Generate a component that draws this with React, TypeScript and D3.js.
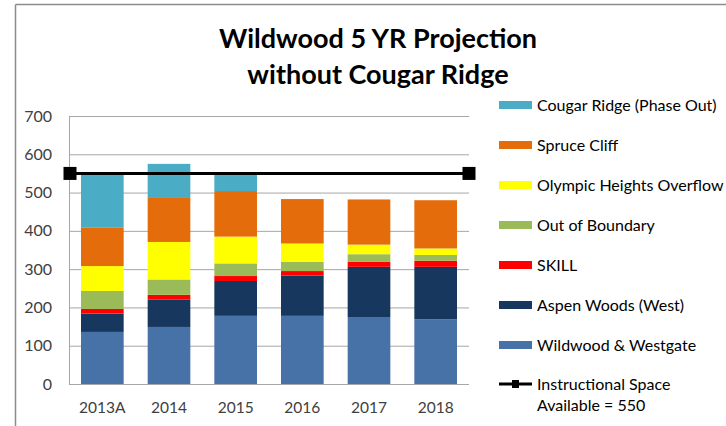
import * as d3 from "d3";

// chart values
const years = ["2013A", "2014", "2015", "2016", "2017", "2018"];
const wildwood = [136, 149, 178, 178, 175, 169];
const aspen = [48, 72, 91, 105, 131, 137];
const skill = [12, 12, 13, 12, 13, 16];
const outOfBoundary = [47, 40, 33, 24, 20, 15];
const olympic = [65, 98, 70, 48, 25, 17];
const spruce = [100, 117, 119, 116, 118, 126];
const cougar = [140, 87, 44, 0, 0, 0];
const capacity = 550;
const yTicks = [0, 100, 200, 300, 400, 500, 600, 700];

// bottom -> top stacking order
const seriesNames = [
  "Wildwood & Westgate",
  "Aspen Woods (West)",
  "SKILL",
  "Out of Boundary",
  "Olympic Heights Overflow",
  "Spruce Cliff",
  "Cougar Ridge (Phase Out)",
];
const seriesValues = [wildwood, aspen, skill, outOfBoundary, olympic, spruce, cougar];
const colors = ["#4672A8", "#17375E", "#FF0000", "#9BBB59", "#FFFF00", "#E46C0A", "#4BACC6"];

const W = 726;
const H = 426;
const plot = { left: 69, right: 469, top: 116, bottom: 384 };
const FONT = "Lato, 'Open Sans', sans-serif";

export default function App() {
  const rows = years.map((year, i) => {
    const row: Record<string, any> = { year };
    seriesNames.forEach((name, s) => (row[name] = seriesValues[s][i]));
    return row;
  });
  const stacked = d3.stack<any>().keys(seriesNames)(rows);

  const x = d3
    .scaleBand<string>()
    .domain(years)
    .range([plot.left, plot.right])
    .paddingInner(0.36)
    .paddingOuter(0.18);
  const y = d3.scaleLinear().domain([0, 700]).range([plot.bottom, plot.top]);

  // legend, listed top -> bottom
  const legendOrder = seriesNames.map((n, i) => ({ name: n, color: colors[i] })).reverse();
  const legendX = 499;
  const legendY0 = 105;
  const legendStep = 40;

  return (
    <svg
      width={W}
      height={H}
      style={{ position: "absolute", left: 0, top: 0, display: "block", background: "#fff" }}
      fontFamily={FONT}
    >
      {/* outer chart border (only top/left visible) */}
      <line x1={15.5} x2={W} y1={4.5} y2={4.5} stroke="#8c8c8c" strokeWidth={1.5} />
      <line x1={15.5} x2={15.5} y1={4.5} y2={H} stroke="#8c8c8c" strokeWidth={1.5} />

      {/* title */}
      <text x={378} y={48} textAnchor="middle" fontSize={27} fontWeight="bold" fill="#000">
        Wildwood 5 YR Projection
      </text>
      <text x={378} y={84} textAnchor="middle" fontSize={27} fontWeight="bold" fill="#000">
        without Cougar Ridge
      </text>

      {/* gridlines and y labels */}
      {yTicks.map((t) => (
        <g key={t}>
          {t > 0 && (
            <line x1={plot.left} x2={plot.right} y1={y(t) + 0.5} y2={y(t) + 0.5} stroke="#a6a6a6" />
          )}
          <text x={52} y={y(t) + 5.5} textAnchor="end" fontSize={16} fill="#404040">
            {t}
          </text>
        </g>
      ))}

      {/* bars */}
      {stacked.map((layer, s) => (
        <g key={layer.key} fill={colors[s]}>
          {layer.map((d, i) =>
            d[1] - d[0] > 0 ? (
              <rect
                key={i}
                x={x(years[i])}
                width={x.bandwidth()}
                y={y(d[1])}
                height={y(d[0]) - y(d[1])}
              />
            ) : null
          )}
        </g>
      ))}

      {/* axes */}
      <line x1={plot.left + 0.5} x2={plot.left + 0.5} y1={plot.top} y2={plot.bottom} stroke="#a6a6a6" />
      <line x1={plot.left} x2={plot.right} y1={plot.bottom + 0.5} y2={plot.bottom + 0.5} stroke="#a6a6a6" />
      {years.map((yr) => (
        <text
          key={yr}
          x={(x(yr) as number) + x.bandwidth() / 2}
          y={413}
          textAnchor="middle"
          fontSize={15.5}
          fill="#404040"
        >
          {yr}
        </text>
      ))}

      {/* capacity line */}
      <line x1={plot.left + 1} x2={plot.right} y1={y(capacity)} y2={y(capacity)} stroke="#000" strokeWidth={3} />
      {[plot.left + 1, plot.right].map((px) => (
        <rect key={px} x={px - 6.5} y={y(capacity) - 6.5} width={13} height={13} fill="#000" />
      ))}

      {/* legend */}
      {legendOrder.map((item, i) => (
        <g key={item.name}>
          <rect x={legendX} y={legendY0 + i * legendStep - 4} width={33} height={8} fill={item.color} />
          <text x={537} y={legendY0 + i * legendStep + 5.5} fontSize={16} fill="#000">
            {item.name}
          </text>
        </g>
      ))}
      <line
        x1={legendX}
        x2={legendX + 33}
        y1={legendY0 + 7 * legendStep - 1}
        y2={legendY0 + 7 * legendStep - 1}
        stroke="#000"
        strokeWidth={3}
      />
      <rect x={legendX + 13} y={legendY0 + 7 * legendStep - 5} width={7} height={8} fill="#000" />
      <text x={537} y={legendY0 + 7 * legendStep + 4.5} fontSize={16} fill="#000">
        Instructional Space
      </text>
      <text x={537} y={legendY0 + 7 * legendStep + 26} fontSize={16} fill="#000">
        Available = 550
      </text>
    </svg>
  );
}
